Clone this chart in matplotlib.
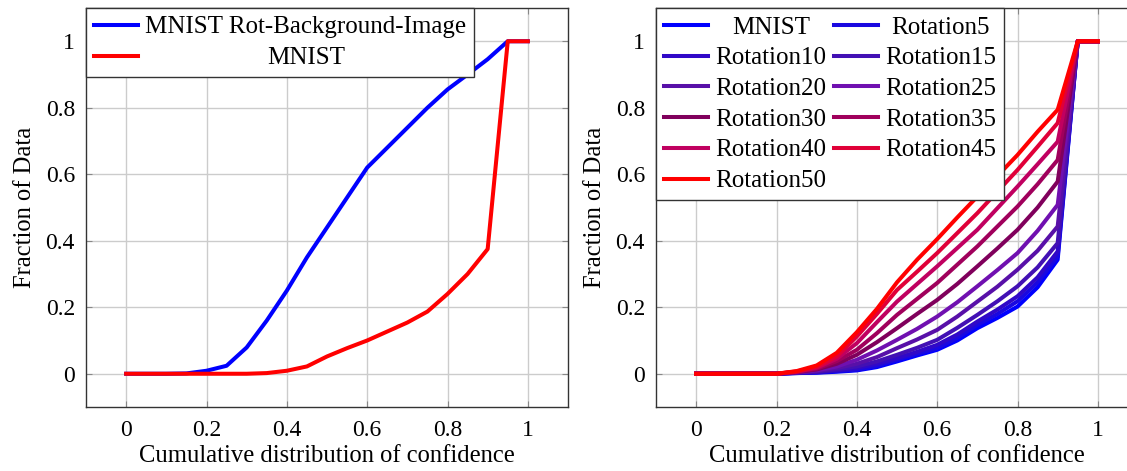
import matplotlib
matplotlib.use("Agg")
import matplotlib.pyplot as plt
import numpy as np

plt.rcParams["font.family"] = ["Liberation Serif", "DejaVu Serif"]

# confidence bins (x axis of both panels)
conf = [0.0, 0.05, 0.1, 0.15, 0.2, 0.25, 0.3, 0.35, 0.4, 0.45, 0.5,
        0.55, 0.6, 0.65, 0.7, 0.75, 0.8, 0.85, 0.9, 0.95, 1.0]

# left panel
rot_bg = [0, 0, 0, 0.001, 0.009, 0.024, 0.079, 0.16, 0.25, 0.35, 0.44,
          0.53, 0.62, 0.68, 0.74, 0.80, 0.855, 0.90, 0.946, 1.0, 1.0]
mnist_l = [0, 0, 0, 0, 0, 0, 0, 0.002, 0.009, 0.022, 0.052,
           0.077, 0.10, 0.127, 0.154, 0.187, 0.24, 0.30, 0.375, 1.0, 1.0]

# right panel: MNIST and rotated versions
rot_names = ["MNIST", "Rotation5", "Rotation10", "Rotation15", "Rotation20",
             "Rotation25", "Rotation30", "Rotation35", "Rotation40",
             "Rotation45", "Rotation50"]
rot_colors = ["#0000ff", "#1a08e0", "#3008c8", "#4210b4", "#5810a8",
              "#7010b0", "#80005c", "#a0005c", "#c00060", "#e00038",
              "#ff0000"]
rot_curves = [
    [0, 0, 0, 0, 0, 0.002, 0.003, 0.006, 0.010, 0.020, 0.037, 0.055, 0.072, 0.100, 0.137, 0.168, 0.202, 0.260, 0.343, 1.0, 1.0],
    [0, 0, 0, 0, 0, 0.002, 0.004, 0.008, 0.012, 0.024, 0.042, 0.060, 0.077, 0.108, 0.147, 0.180, 0.218, 0.275, 0.353, 1.0, 1.0],
    [0, 0, 0, 0, 0, 0.003, 0.005, 0.010, 0.017, 0.030, 0.047, 0.066, 0.087, 0.118, 0.157, 0.193, 0.233, 0.290, 0.368, 1.0, 1.0],
    [0, 0, 0, 0, 0, 0.003, 0.006, 0.013, 0.022, 0.037, 0.057, 0.078, 0.102, 0.138, 0.177, 0.218, 0.263, 0.320, 0.393, 1.0, 1.0],
    [0, 0, 0, 0, 0, 0.004, 0.008, 0.017, 0.030, 0.050, 0.077, 0.103, 0.132, 0.172, 0.217, 0.262, 0.313, 0.370, 0.443, 1.0, 1.0],
    [0, 0, 0, 0, 0, 0.004, 0.010, 0.022, 0.042, 0.070, 0.102, 0.135, 0.172, 0.215, 0.263, 0.312, 0.363, 0.430, 0.508, 1.0, 1.0],
    [0, 0, 0, 0, 0, 0.005, 0.013, 0.030, 0.057, 0.095, 0.137, 0.180, 0.222, 0.270, 0.323, 0.377, 0.433, 0.500, 0.578, 1.0, 1.0],
    [0, 0, 0, 0, 0, 0.005, 0.015, 0.038, 0.072, 0.122, 0.177, 0.225, 0.273, 0.328, 0.383, 0.443, 0.503, 0.570, 0.643, 1.0, 1.0],
    [0, 0, 0, 0, 0, 0.006, 0.018, 0.045, 0.092, 0.155, 0.217, 0.270, 0.323, 0.378, 0.433, 0.498, 0.563, 0.630, 0.698, 1.0, 1.0],
    [0, 0, 0, 0, 0, 0.007, 0.020, 0.052, 0.112, 0.180, 0.252, 0.307, 0.363, 0.423, 0.483, 0.548, 0.613, 0.683, 0.754, 1.0, 1.0],
    [0, 0, 0, 0, 0, 0.008, 0.025, 0.063, 0.125, 0.195, 0.275, 0.343, 0.405, 0.470, 0.533, 0.595, 0.658, 0.728, 0.794, 1.0, 1.0],
]

ticks = [0, 0.2, 0.4, 0.6, 0.8, 1]
tick_labels = ["0", "0.2", "0.4", "0.6", "0.8", "1"]
LW = 2.9
FS_TICK = 17
FS_LABEL = 17.7
FS_LEG = 18


def style_axes(ax):
    ax.set_xlim(-0.1, 1.1)
    ax.set_ylim(-0.1, 1.1)
    ax.set_xticks(ticks, tick_labels)
    ax.set_yticks(ticks, tick_labels)
    ax.tick_params(direction="in", top=True, right=True, length=4,
                   color="#888888", labelsize=FS_TICK)
    ax.tick_params(axis="x", pad=9)
    ax.tick_params(axis="y", pad=8)
    ax.grid(color="#cccccc", lw=1.0)
    ax.set_axisbelow(True)
    for s in ax.spines.values():
        s.set_color("#333333")
        s.set_linewidth(1.0)
    ax.set_xlabel("Cumulative distribution of confidence", fontsize=FS_LABEL,
                  labelpad=3)
    ax.set_ylabel("Fraction of Data", fontsize=FS_LABEL, labelpad=7)


def make_legend(ax, handles, ncol):
    leg = ax.legend(handles=handles, loc="upper left", ncol=ncol,
                    fontsize=FS_LEG, frameon=True, fancybox=False,
                    borderaxespad=0, borderpad=0.32, handlelength=1.75,
                    handletextpad=0.3, labelspacing=0.33, columnspacing=0.3,
                    framealpha=1)
    leg.get_frame().set_edgecolor("#333333")
    leg.get_frame().set_linewidth(1.0)
    return leg


def center_columns(fig, leg, columns):
    # pgfplots-style: labels centred within their legend column
    fig.canvas.draw()
    r = fig.canvas.get_renderer()
    texts = leg.get_texts()
    for col in columns:
        widths = [texts[i].get_window_extent(r).width for i in col]
        wmax = max(widths)
        for i, w in zip(col, widths):
            texts[i].set_x((wmax - w) / 2)


fig = plt.figure(figsize=(11.27, 4.71), dpi=100)
ax1 = fig.add_axes([86 / 1127, 64 / 471, 482 / 1127, 399 / 471])
ax2 = fig.add_axes([656 / 1127, 64 / 471, 482 / 1127, 399 / 471])

h1, = ax1.plot(conf, rot_bg, color="#0000ff", lw=LW,
               label="MNIST Rot-Background-Image")
h2, = ax1.plot(conf, mnist_l, color="#ff0000", lw=LW, label="MNIST")
style_axes(ax1)
leg1 = make_legend(ax1, [h1, h2], 1)

handles = []
for name, col, ys in zip(rot_names, rot_colors, rot_curves):
    h, = ax2.plot(conf, ys, color=col, lw=LW, label=name)
    handles.append(h)
style_axes(ax2)
# column-major fill: left column MNIST,10,...,50; right column 5,15,...,45
order = [0, 2, 4, 6, 8, 10, 1, 3, 5, 7, 9]
leg2 = make_legend(ax2, [handles[i] for i in order], 2)

center_columns(fig, leg1, [[0, 1]])
center_columns(fig, leg2, [[0, 1, 2, 3, 4, 5], [6, 7, 8, 9, 10]])

fig.savefig("out.png", dpi=100)
plt.close(fig)
